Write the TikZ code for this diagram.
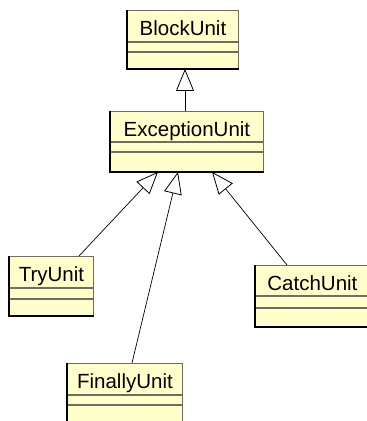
\documentclass[tikz,border=0pt]{standalone}
\usepackage{fontspec}
\setmainfont{Liberation Sans}
\usetikzlibrary{arrows.meta,calc}
\definecolor{umlfill}{HTML}{FFFFCC}
\definecolor{umledge}{HTML}{6E6E5E}
\tikzset{
  classbox/.style={draw=umledge, fill=umlfill, line width=0.9pt, rectangle, inner sep=0pt, anchor=north west},
  classname/.style={font=\fontsize{20.5}{24}\selectfont, inner sep=0pt, anchor=base},
  divider/.style={draw=umledge, line width=1.1pt},
  shadowedge/.style={draw=black, line width=1.6pt},
  inherit/.style={draw=black, line width=0.7pt, -{Triangle[open, length=22pt, width=18pt, line width=0.8pt]}},
}
% #1 name, #2 x, #3 y, #4 w, #5 h, #6 div1, #7 div2, #8 text
\newcommand\umlclassbox[8]{%
  \node[classbox, minimum width=#4pt, minimum height=#5pt] (#1) at (#2,#3) {};
  \draw[divider] ($(#1.north west)+(0,#6)$) -- ($(#1.north east)+(0,#6)$);
  \draw[divider] ($(#1.north west)+(0,#7)$) -- ($(#1.north east)+(0,#7)$);
  \draw[shadowedge] (#1.north west) -- (#1.south west) -- (#1.south east);
  \node[classname] (#1-name) at ($(#1.north)+(0,25)$) {#8};
}
\begin{document}
\begin{tikzpicture}[x=1pt, y=-1pt]
  \clip (0,0) rectangle (367,421);
  \fill[white] (0,0) rectangle (367,421);
  \umlclassbox{block}{127}{10}{111}{58}{32}{42}{BlockUnit}
  \umlclassbox{exc}{110}{111}{153}{60}{31}{41}{ExceptionUnit}
  \umlclassbox{try}{9}{256}{84}{59}{32}{43}{TryUnit}
  \umlclassbox{catch}{255}{265}{114}{61}{31}{43}{CatchUnit}
  \umlclassbox{fin}{67}{363}{115}{70}{32}{42}{FinallyUnit}
  % attachment points
  \coordinate (blockB) at ($(block.south west)+(58,0)$);
  \coordinate (excT) at ($(exc.north west)+(75,0)$);
  \coordinate (excB1) at ($(exc.south west)+(48,0)$);
  \coordinate (excB2) at ($(exc.south west)+(68,0)$);
  \coordinate (excB3) at ($(exc.south west)+(102,0)$);
  \coordinate (tryT) at ($(try.north west)+(70,0)$);
  \coordinate (finT) at ($(fin.north west)+(65,0)$);
  \coordinate (catchT) at ($(catch.north west)+(32,0)$);
  \draw[inherit] (excT) -- (blockB);
  \draw[inherit] (tryT) -- (excB1);
  \draw[inherit] (finT) -- (excB2);
  \draw[inherit] (catchT) -- (excB3);
\end{tikzpicture}
\end{document}
